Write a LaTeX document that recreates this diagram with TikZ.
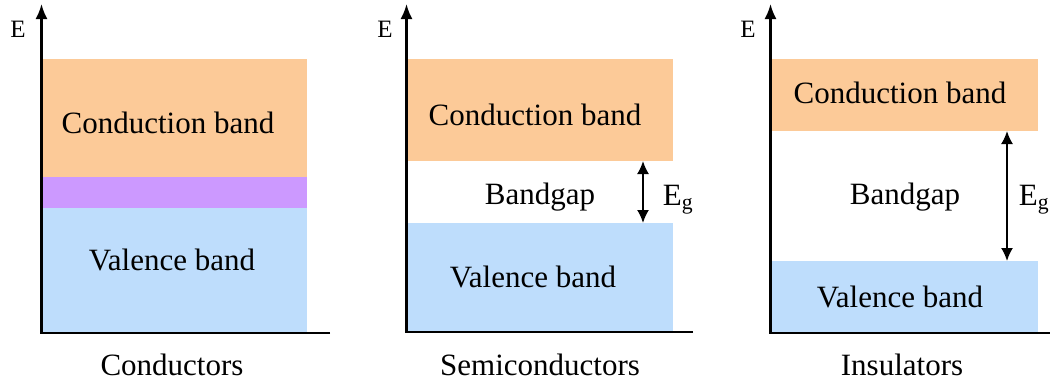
\documentclass[tikz,border=0pt]{standalone}
\usepackage{fontspec}
\setmainfont{Liberation Serif}
\usetikzlibrary{arrows.meta}
\definecolor{cband}{HTML}{FCCA98}
\definecolor{mband}{HTML}{CC99FF}
\definecolor{vband}{HTML}{BEDDFC}
\tikzset{
  x=1pt, y=-1pt,
  band/.style={draw=none, inner sep=0pt, anchor=north west},
  lbl/.style={inner sep=0pt, font=\fontsize{31}{36}\selectfont},
  axlbl/.style={inner sep=0pt, font=\fontsize{25}{30}\selectfont},
  axis/.style={line width=2.2pt, -{Latex[length=15pt,width=12pt]}},
  gaparrow/.style={line width=1.8pt, {Latex[length=13pt,width=12pt]}-{Latex[length=13pt,width=12pt]}}
}
\begin{document}
\begin{tikzpicture}
\useasboundingbox[fill=white] (0,0) rectangle (1050,381);
% ---------- Conductors ----------
\node[band, fill=cband, minimum width=265pt, minimum height=118pt] (cb1) at (42,59) {};
\node[band, fill=mband, minimum width=265pt, minimum height=31pt] (mb1) at (42,177) {};
\node[band, fill=vband, minimum width=265pt, minimum height=125pt] (vb1) at (42,208) {};
\coordinate (o1) at (41.5,333);
\coordinate (t1) at (41.5,4);
\coordinate (r1) at (330,333);
\draw[axis] (r1) -- (o1) -- (t1);
\node[axlbl] (e1) at (18,29) {E};
\node[lbl] (cl1) at (168,123) {Conduction band};
\node[lbl] (vl1) at (172,260) {Valence band};
\node[lbl] (n1) at (172,365) {Conductors};
% ---------- Semiconductors ----------
\node[band, fill=cband, minimum width=266pt, minimum height=102pt] (cb2) at (407,59) {};
\node[band, fill=vband, minimum width=266pt, minimum height=109pt] (vb2) at (407,223) {};
\coordinate (o2) at (406.5,332);
\coordinate (t2) at (406.5,4);
\coordinate (r2) at (693,332);
\draw[axis] (r2) -- (o2) -- (t2);
\node[axlbl] (e2) at (385,29) {E};
\node[lbl] (cl2) at (535,115) {Conduction band};
\node[lbl] (bg2) at (540,197) {Bandgap};
\node[lbl] (vl2) at (533,277) {Valence band};
\node[lbl] (n2) at (540,365) {Semiconductors};
\coordinate (ga2) at (643,161);
\coordinate (gb2) at (643,223);
\draw[gaparrow] (ga2) -- (gb2);
\node[lbl] (eg2) at (678,200) {E\textsubscript{g}};
% ---------- Insulators ----------
\node[band, fill=cband, minimum width=267pt, minimum height=72pt] (cb3) at (771,59) {};
\node[band, fill=vband, minimum width=267pt, minimum height=72pt] (vb3) at (771,261) {};
\coordinate (o3) at (770.5,333);
\coordinate (t3) at (770.5,4);
\coordinate (r3) at (1050,333);
\draw[axis] (r3) -- (o3) -- (t3);
\node[axlbl] (e3) at (748,29) {E};
\node[lbl] (cl3) at (900,93) {Conduction band};
\node[lbl] (bg3) at (905,197) {Bandgap};
\node[lbl] (vl3) at (900,297) {Valence band};
\node[lbl] (n3) at (902,365) {Insulators};
\coordinate (ga3) at (1007,131);
\coordinate (gb3) at (1007,261);
\draw[gaparrow] (ga3) -- (gb3);
\node[lbl] (eg3) at (1034,200) {E\textsubscript{g}};
\end{tikzpicture}
\end{document}
